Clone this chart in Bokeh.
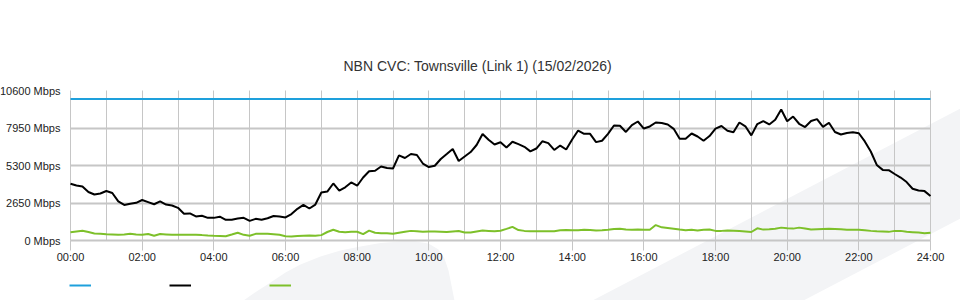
from bokeh.plotting import figure
from bokeh.models import FixedTicker, Legend, LegendItem, Range1d, ColumnDataSource, PolyAnnotation
from bokeh.embed import file_html
from bokeh.resources import INLINE

# ---------------- data ----------------
title_text = "NBN CVC: Townsville (Link 1) (15/02/2026)"
minutes = list(range(0, 1441, 10))          # sample times, 10-minute steps
capacity = [10000] * len(minutes)           # link capacity (Mbps)
traffic = [
    4010, 3890, 3820, 3430, 3250, 3320, 3500, 3360, 2760, 2510, 2590, 2660, 2860, 2710, 2560, 2760,
    2540, 2470, 2310, 1890, 1910, 1700, 1750, 1600, 1600, 1680, 1460, 1460, 1550, 1600, 1390, 1530,
    1460, 1570, 1730, 1700, 1630, 1870, 2240, 2520, 2260, 2540, 3390, 3460, 4030, 3530, 3760, 4100,
    3870, 4450, 4890, 4930, 5230, 5120, 5090, 6010, 5830, 6110, 6040, 5440, 5190, 5280, 5760, 6110,
    6470, 5620, 5940, 6250, 6750, 7530, 7120, 6780, 6940, 6570, 6980, 6810, 6620, 6300, 6500, 7010,
    6880, 6400, 6710, 6430, 7140, 7770, 7540, 7540, 6950, 7050, 7530, 8130, 8110, 7670, 8160, 8410,
    7910, 8060, 8340, 8300, 8200, 7890, 7190, 7190, 7560, 7350, 7050, 7380, 7910, 8090, 7750, 7650,
    8340, 8070, 7430, 8230, 8440, 8200, 8530, 9260, 8430, 8760, 8250, 8020, 8440, 8580, 8030, 8320,
    7670, 7490, 7600, 7650, 7580, 7000, 6290, 5340, 4990, 4970, 4700, 4450, 4130, 3660, 3530, 3490,
    3140,
]
upload = [
    590, 640, 690, 600, 500, 470, 440, 420, 400, 430, 470, 430, 400, 460, 340, 460,
    430, 400, 400, 400, 400, 400, 380, 350, 330, 320, 300, 420, 550, 400, 340, 470,
    470, 470, 440, 400, 300, 290, 320, 340, 350, 330, 380, 600, 760, 620, 580, 610,
    620, 450, 700, 550, 520, 520, 480, 550, 620, 680, 650, 620, 640, 640, 620, 600,
    640, 670, 560, 560, 640, 700, 680, 660, 690, 820, 960, 740, 680, 660, 660, 660,
    660, 660, 720, 750, 720, 730, 760, 740, 710, 730, 760, 820, 830, 770, 760, 770,
    760, 760, 1090, 930, 880, 830, 770, 720, 760, 710, 760, 780, 680, 680, 710, 690,
    670, 640, 600, 860, 770, 790, 830, 910, 860, 840, 910, 850, 780, 800, 820, 830,
    810, 790, 760, 760, 760, 720, 680, 650, 630, 610, 680, 680, 620, 590, 560, 520,
    540,
]
x_ticks = list(range(0, 25, 2))
x_minor_ticks = list(range(1, 24, 2))
x_tick_labels = ["00:00", "02:00", "04:00", "06:00", "08:00", "10:00", "12:00",
                 "14:00", "16:00", "18:00", "20:00", "22:00", "24:00"]
y_ticks = [0, 2650, 5300, 7950, 10600]
y_tick_labels = ["0 Mbps", "2650 Mbps", "5300 Mbps", "7950 Mbps", "10600 Mbps"]
x_max = 24
y_max = 10600

# ---------------- layout / styles ----------------
W, H = 960, 300
PLOT_L, PLOT_R, PLOT_T, PLOT_B = 70, 930, 90, 240   # drawing area of the chart (pixels)
FRAME_T = 80                                       # Bokeh frame top (room for top tick label)
FONT = "Liberation Sans"
GRID = "#c6c6c6"
BLUE = "#1ea0dc"
GREEN = "#7dc02a"
BLACK = "#000000"
WM = "#f3f4f6"

# the Bokeh frame spans the whole canvas width and reaches the bottom, so the axes
# (drawn at fixed locations) and the legend are not clipped
px_x = (PLOT_R - PLOT_L) / x_max
px_y = (PLOT_B - PLOT_T) / y_max
x_range = Range1d(-PLOT_L / px_x, x_max + (W - PLOT_R) / px_x)
y_range = Range1d(-(H - PLOT_B) / px_y, y_max + (PLOT_T - FRAME_T) / px_y)

hours = [m / 60 for m in minutes]
src = ColumnDataSource(dict(t=hours, cap=capacity, down=traffic, up=upload))

p = figure(width=W, height=H, output_backend="svg", toolbar_location=None,
           x_range=x_range, y_range=y_range,
           min_border_left=0, min_border_right=0, min_border_top=FRAME_T, min_border_bottom=0)
p.outline_line_color = None
p.background_fill_color = "white"
p.border_fill_color = "white"

# decorative watermark in the background (canvas pixel outline -> frame screen units)
wm1 = [(243, 300), (256, 291), (270, 282), (285, 272), (300, 264), (320, 256), (340, 250),
       (360, 246), (380, 242.5), (400, 241), (415, 241), (428, 243), (438, 249), (444, 258),
       (448, 270), (451, 285), (454, 300)]
wm2 = [(592, 300), (960, 108), (960, 218), (803, 300)]
for shape in (wm1, wm2):
    p.add_layout(PolyAnnotation(xs=[a for a, b in shape], ys=[H - b for a, b in shape],
                                xs_units="screen", ys_units="screen",
                                fill_color=WM, fill_alpha=1, line_color=None, level="image"))

# title (left aligned with an offset so it is centred on the canvas)
p.title.text = title_text
p.title.align = "left"
p.title.offset = 343
p.title.text_font = FONT
p.title.text_font_size = "14px"
p.title.text_font_style = "normal"
p.title.text_color = "#333333"
p.title.standoff = 13

# grids (no line along the top edge)
p.xgrid.ticker = FixedTicker(ticks=x_ticks, minor_ticks=x_minor_ticks)
p.xgrid.grid_line_color = GRID
p.xgrid.minor_grid_line_color = GRID
p.xgrid.cross_bounds = (0, y_max)
p.ygrid.ticker = FixedTicker(ticks=[t for t in y_ticks if t < y_max])
p.ygrid.grid_line_color = GRID
p.ygrid.grid_line_width = 2
p.ygrid.cross_bounds = (0, x_max)

# axes
xa = p.xaxis[0]
xa.fixed_location = 0
xa.bounds = (0, x_max)
xa.ticker = FixedTicker(ticks=x_ticks, minor_ticks=x_minor_ticks)
xa.major_label_overrides = {t: l for t, l in zip(x_ticks, x_tick_labels)}
xa.axis_line_color = GRID
xa.major_tick_line_color = GRID
xa.major_tick_in = 0
xa.major_tick_out = 10
xa.minor_tick_line_color = None
xa.major_label_standoff = 0
xa.major_label_text_font = FONT
xa.major_label_text_font_size = "11px"
xa.major_label_text_color = "#222222"

ya = p.yaxis[0]
ya.fixed_location = 0
ya.bounds = (0, y_max)
ya.ticker = FixedTicker(ticks=y_ticks)
ya.major_label_overrides = {t: l for t, l in zip(y_ticks, y_tick_labels)}
ya.axis_line_color = None
ya.major_tick_line_color = None
ya.minor_tick_line_color = None
ya.major_tick_in = 0
ya.major_tick_out = 0
ya.major_label_standoff = 10
ya.major_label_text_font = FONT
ya.major_label_text_font_size = "11px"
ya.major_label_text_color = "#222222"

# series
r_cap = p.line("t", "cap", source=src, line_color=BLUE, line_width=2)
r_down = p.line("t", "down", source=src, line_color=BLACK, line_width=2)
r_up = p.line("t", "up", source=src, line_color=GREEN, line_width=2)

legend = Legend(items=[LegendItem(label=" ", renderers=[r_cap]),
                       LegendItem(label=" ", renderers=[r_down]),
                       LegendItem(label=" ", renderers=[r_up])],
                orientation="horizontal", location=(69, 5), spacing=53,
                glyph_width=22, glyph_height=20, label_width=20, label_height=20,
                label_standoff=5, padding=0, margin=0,
                background_fill_alpha=0, border_line_color=None,
                label_text_font_size="11px")
p.add_layout(legend)

open("out.html", "w").write(file_html(p, INLINE))
